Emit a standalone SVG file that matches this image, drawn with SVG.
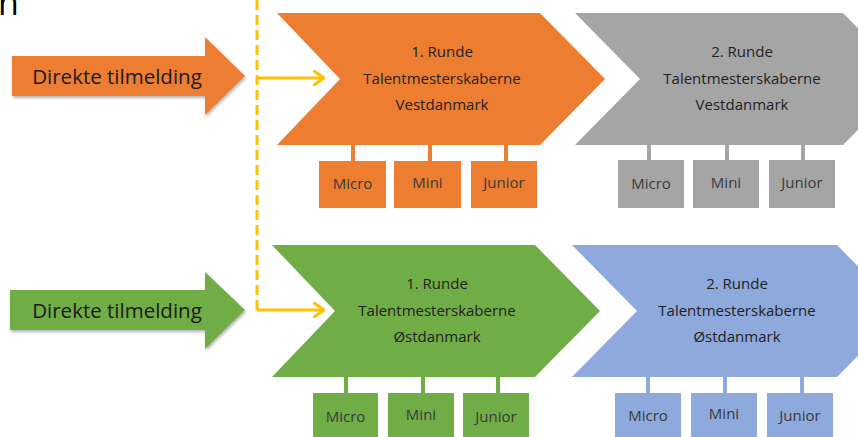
<svg xmlns="http://www.w3.org/2000/svg" width="858" height="437" viewBox="0 0 858 437">
<defs>
<filter id="sh" x="-10%" y="-20%" width="130%" height="150%">
<feDropShadow dx="1" dy="2" stdDeviation="1.5" flood-color="#000" flood-opacity="0.3"/>
</filter>
<marker id="chev" viewBox="0 0 12 16" refX="11" refY="8" markerWidth="12" markerHeight="16" markerUnits="userSpaceOnUse" orient="auto">
<path d="M1,1 L11,8 L1,15" fill="none" stroke="#FFC000" stroke-width="3" stroke-linecap="round" stroke-linejoin="round"/>
</marker>
<style>
text{font-family:"Open Sans","Liberation Sans",sans-serif;text-anchor:middle}
.big{font-size:20.5px;fill:#1a1a1a}
.ch{font-size:15px;fill:#222}
.sb{font-size:15px;fill:#3a3a3a}
.or{fill:#ED7D31}.gr{fill:#A5A5A5}.gn{fill:#70AD47}.bl{fill:#8EA9DB}
.dash{stroke:#FFC000;stroke-width:3;fill:none;stroke-dasharray:10 5}
.link{stroke:#FFC000;stroke-width:3;fill:none}
.stem{stroke-width:4}
</style>
</defs>
<rect width="858" height="437" fill="#fff"/>
<text x="-2" y="15" style="font-size:34px;text-anchor:start;fill:#000">n</text>

<g id="arrow-top">
<path class="or" filter="url(#sh)" d="M12,56 H205 V37 L245,76 L205,115 V96 H12 Z"/>
<text class="big" x="117" y="84">Direkte tilmelding</text>
</g>
<g id="arrow-bottom">
<path class="gn" filter="url(#sh)" d="M10,290 H205 V272 L245,310 L205,349 V330 H10 Z"/>
<text class="big" x="117" y="318">Direkte tilmelding</text>
</g>

<g id="connectors">
<path class="dash" d="M257,0 V310"/>
<path class="link" d="M257,78 H324" marker-end="url(#chev)"/>
<path class="link" d="M257,310 H324" marker-end="url(#chev)"/>
<g class="stem" stroke="#ED7D31">
<path d="M353,145 V162 M430,145 V162 M506,145 V162"/>
</g>
<g class="stem" stroke="#A5A5A5">
<path d="M649,145 V161 M727,145 V161 M803,145 V161"/>
</g>
<g class="stem" stroke="#70AD47">
<path d="M346,377 V394 M423,377 V394 M498,377 V394"/>
</g>
<g class="stem" stroke="#8EA9DB">
<path d="M648,377 V394 M725,377 V394 M802,377 V394"/>
</g>
</g>

<g id="west-round1">
<path class="or" d="M277,13 H540 L605,79 L540,145 H277 L340,79 Z"/>
<text class="ch" x="442" y="57">1. Runde</text>
<text class="ch" x="442" y="84">Talentmesterskaberne</text>
<text class="ch" x="442" y="110">Vestdanmark</text>
</g>
<g id="west-round2">
<path class="gr" d="M575,13 H843 L908,79 L843,145 H575 L640,79 Z"/>
<text class="ch" x="742" y="57">2. Runde</text>
<text class="ch" x="742" y="84">Talentmesterskaberne</text>
<text class="ch" x="742" y="110">Vestdanmark</text>
</g>
<g id="west-r1-micro"><rect class="or" x="319" y="161" width="67" height="47"/><text class="sb" x="352.5" y="189">Micro</text></g>
<g id="west-r1-mini"><rect class="or" x="394" y="161" width="67" height="47"/><text class="sb" x="427.5" y="188">Mini</text></g>
<g id="west-r1-junior"><rect class="or" x="471" y="161" width="66" height="47"/><text class="sb" x="504" y="188">Junior</text></g>
<g id="west-r2-micro"><rect class="gr" x="618" y="160" width="66" height="48"/><text class="sb" x="651" y="189">Micro</text></g>
<g id="west-r2-mini"><rect class="gr" x="693" y="160" width="66" height="48"/><text class="sb" x="726" y="188">Mini</text></g>
<g id="west-r2-junior"><rect class="gr" x="769" y="160" width="66" height="48"/><text class="sb" x="802" y="188">Junior</text></g>

<g id="east-round1">
<path class="gn" d="M272,245 H535 L600,311 L535,377 H272 L335,311 Z"/>
<text class="ch" x="437" y="289">1. Runde</text>
<text class="ch" x="437" y="316">Talentmesterskaberne</text>
<text class="ch" x="437" y="342">Østdanmark</text>
</g>
<g id="east-round2">
<path class="bl" d="M572,245 H837 L902,311 L837,377 H572 L637,311 Z"/>
<text class="ch" x="737" y="289">2. Runde</text>
<text class="ch" x="737" y="316">Talentmesterskaberne</text>
<text class="ch" x="737" y="342">Østdanmark</text>
</g>
<g id="east-r1-micro"><rect class="gn" x="313" y="393" width="65" height="48"/><text class="sb" x="345.5" y="422">Micro</text></g>
<g id="east-r1-mini"><rect class="gn" x="388" y="393" width="66" height="48"/><text class="sb" x="421" y="420">Mini</text></g>
<g id="east-r1-junior"><rect class="gn" x="463" y="393" width="66" height="48"/><text class="sb" x="496" y="422">Junior</text></g>
<g id="east-r2-micro"><rect class="bl" x="615" y="393" width="66" height="48"/><text class="sb" x="648" y="421">Micro</text></g>
<g id="east-r2-mini"><rect class="bl" x="691" y="393" width="66" height="48"/><text class="sb" x="724" y="419">Mini</text></g>
<g id="east-r2-junior"><rect class="bl" x="767" y="393" width="66" height="48"/><text class="sb" x="800" y="421">Junior</text></g>
</svg>
